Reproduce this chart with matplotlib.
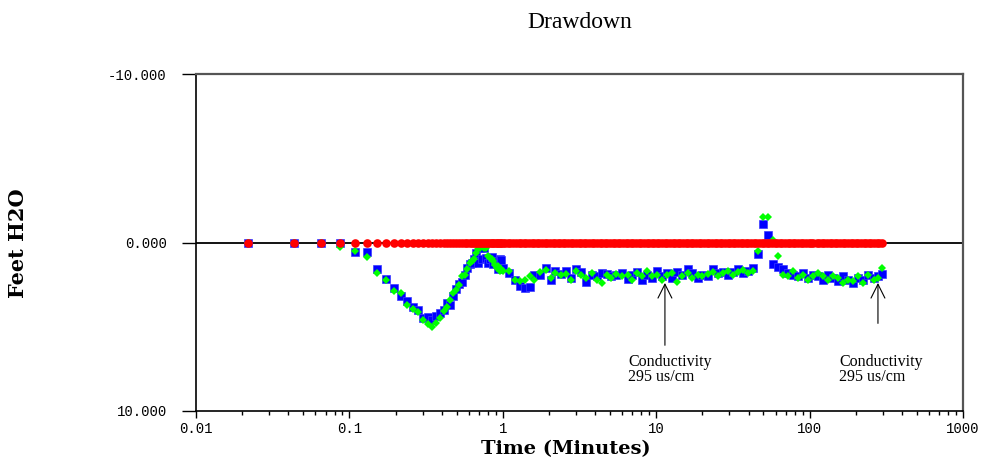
import matplotlib.pyplot as plt
import matplotlib.ticker as mticker

# elapsed time (minutes) - linear 1.3 s logging, then log logging
minutes = [
    0.0217, 0.0433, 0.0650, 0.0867, 0.1083, 0.1300, 0.1517, 0.1733, 0.1950, 0.2167,
    0.2383, 0.2600, 0.2817, 0.3033, 0.3250, 0.3467, 0.3683, 0.3900, 0.4117, 0.4333,
    0.4550, 0.4767, 0.4983, 0.5200, 0.5417, 0.5633, 0.5850, 0.6067, 0.6283, 0.6500,
    0.6717, 0.6933, 0.7150, 0.7367, 0.7583, 0.7800, 0.8017, 0.8233, 0.8450, 0.8667,
    0.8883, 0.9100, 0.9317, 0.9533, 0.9750, 0.9967,
    1.1, 1.2, 1.3, 1.4, 1.5, 1.6, 1.75, 1.9, 2.05, 2.2,
    2.4, 2.6, 2.8, 3.0, 3.25, 3.5, 3.8, 4.1, 4.4, 4.75,
    5.1, 5.5, 6.0, 6.5, 7.0, 7.5, 8.1, 8.7, 9.4, 10.1,
    10.9, 11.8, 12.7, 13.7, 14.8, 16.0, 17.2, 18.6, 20.0, 21.6,
    23.3, 25.1, 27.1, 29.2, 31.5, 34.0, 36.7, 39.6, 42.7, 46.0,
    49.6, 53.5, 57.7, 62.2, 67.1, 72.4, 78.1, 84.2, 90.8, 97.9,
    105.6, 113.9, 122.8, 132.4, 142.8, 154, 166, 179, 193, 208,
    224, 242, 261, 281, 298,
]

# drawdown, feet H2O (positive = down)
blue = [
    0, 0, 0, 0, 0.55, 0.55, 1.55, 2.15, 2.7, 3.2,
    3.5, 3.85, 4.0, 4.5, 4.45, 4.6, 4.35, 4.2, 4.0, 3.6,
    3.7, 3.2, 2.75, 2.45, 2.35, 1.9, 1.5, 1.3, 1.2, 1.0,
    0.65, 1.2, 0.35, 0.95, 0.3, 0.9, 1.2, 1.0, 0.85, 1.3,
    1.1, 1.25, 1.6, 1.0, 1.05, 1.5,
    1.8, 2.2, 2.6, 2.7, 2.65, 1.95, 1.9, 1.5, 2.2, 1.7,
    1.85, 1.7, 2.1, 1.6, 1.75, 2.35, 1.9, 2.0, 1.8, 1.85,
    2.0, 1.9, 1.8, 2.15, 1.95, 1.75, 2.2, 1.9, 2.1, 1.7,
    2.0, 1.8, 2.1, 1.75, 1.9, 1.6, 1.8, 2.1, 1.9, 2.0,
    1.6, 1.8, 1.75, 1.9, 1.75, 1.6, 1.8, 1.7, 1.5, 0.7,
    -1.1, -0.45, 1.25, 1.45, 1.6, 1.8, 1.9, 2.0, 1.8, 2.1,
    1.9, 2.0, 2.2, 1.9, 2.1, 2.3, 2.0, 2.2, 2.4, 2.1,
    2.2, 1.9, 2.1, 2.0, 1.85,
]

green = [
    0, 0, 0, 0.25, 0.5, 0.85, 1.8, 2.2, 2.9, 3.0,
    3.7, 3.95, 4.1, 4.6, 4.85, 5.0, 4.8, 4.5, 4.05, 3.8,
    3.4, 3.0, 2.8, 2.55, 2.0, 1.95, 1.55, 1.2, 1.1, 0.95,
    0.6, 0.4, 0.3, 0.2, 0.3, 0.35, 0.8, 0.9, 1.0, 1.1,
    1.35, 1.5, 1.4, 1.7, 1.6, 1.7,
    1.7, 2.2, 2.3, 2.2, 2.0, 2.2, 1.75, 1.65, 2.1, 1.8,
    1.9, 1.85, 2.2, 1.7, 1.9, 2.1, 1.8, 2.2, 2.4, 1.9,
    2.1, 1.85, 2.0, 1.9, 2.25, 1.8, 2.0, 1.7, 2.0, 1.9,
    2.2, 1.9, 1.8, 2.35, 2.0, 1.8, 2.1, 1.9, 2.0, 1.85,
    1.75, 2.0, 1.8, 1.7, 1.9, 1.75, 1.65, 1.8, 1.7, 0.5,
    -1.5, -1.5, -0.15, 0.8, 1.9, 2.0, 1.7, 2.1, 1.9, 2.2,
    2.0, 1.8, 2.0, 2.2, 2.0, 2.1, 2.4, 2.2, 2.3, 2.0,
    2.4, 1.9, 2.2, 2.1, 1.5,
]

# reference channel (red) is logged more often - reads a flat 0.000
red_minutes = [
    0.0217, 0.0433, 0.0650, 0.0867, 0.1083, 0.1300, 0.1517, 0.1733, 0.1950, 0.2167,
    0.2383, 0.2600, 0.2817, 0.3033, 0.3250, 0.3467, 0.3683, 0.3900, 0.4117, 0.4333,
    0.4550, 0.4767, 0.4983, 0.5200, 0.5417, 0.5633, 0.5850, 0.6067, 0.6283, 0.6500,
    0.6717, 0.6933, 0.7150, 0.7367, 0.7583, 0.7800, 0.8017, 0.8233, 0.8450, 0.8667,
    0.8883, 0.9100, 0.9317, 0.9533, 0.9750, 0.9967,
    1.04, 1.08, 1.12, 1.17, 1.22, 1.27, 1.32, 1.37, 1.42, 1.48,
    1.54, 1.60, 1.67, 1.73, 1.80, 1.87, 1.95, 2.03, 2.11, 2.19,
    2.28, 2.37, 2.46, 2.56, 2.67, 2.77, 2.88, 3.00, 3.12, 3.24,
    3.37, 3.51, 3.65, 3.79, 3.95, 4.10, 4.27, 4.44, 4.62, 4.80,
    4.99, 5.19, 5.40, 5.62, 5.84, 6.07, 6.32, 6.57, 6.83, 7.11,
    7.39, 7.69, 8.00, 8.32, 8.65, 9.00, 9.36, 9.73, 10.1, 10.5,
    10.9, 11.4, 11.8, 12.3, 12.8, 13.3, 13.8, 14.4, 15.0, 15.6,
    16.2, 16.8, 17.5, 18.2, 18.9, 19.7, 20.5, 21.3, 22.2, 23.0,
    24.0, 24.9, 25.9, 27.0, 28.0, 29.2, 30.3, 31.6, 32.8, 34.1,
    35.5, 36.9, 38.4, 39.9, 41.5, 43.2, 44.9, 46.7, 48.6, 50.5,
    52.5, 54.6, 56.8, 59.1, 61.4, 63.9, 66.5, 69.1, 71.9, 74.8,
    77.7, 80.8, 84.1, 87.4, 90.9, 94.6, 98.4, 102, 106, 111,
    115, 120, 125, 130, 135, 140, 146, 152, 158, 164,
    171, 178, 185, 192, 200, 208, 216, 225, 234, 243,
    253, 263, 273, 284, 295,
]

red = [
    0, 0, 0, 0, 0, 0, 0, 0, 0, 0, 0, 0, 0, 0, 0, 0, 0, 0, 0, 0, 0, 0, 0, 0,
    0, 0, 0, 0, 0, 0, 0, 0, 0, 0, 0, 0, 0, 0, 0, 0, 0, 0, 0, 0, 0, 0, 0, 0,
    0, 0, 0, 0, 0, 0, 0, 0, 0, 0, 0, 0, 0, 0, 0, 0, 0, 0, 0, 0, 0, 0, 0, 0,
    0, 0, 0, 0, 0, 0, 0, 0, 0, 0, 0, 0, 0, 0, 0, 0, 0, 0, 0, 0, 0, 0, 0, 0,
    0, 0, 0, 0, 0, 0, 0, 0, 0, 0, 0, 0, 0, 0, 0, 0, 0, 0, 0, 0, 0, 0, 0, 0,
    0, 0, 0, 0, 0, 0, 0, 0, 0, 0, 0, 0, 0, 0, 0, 0, 0, 0, 0, 0, 0, 0, 0, 0,
    0, 0, 0, 0, 0, 0, 0, 0, 0, 0, 0, 0, 0, 0, 0, 0, 0, 0, 0, 0, 0, 0, 0, 0,
    0, 0, 0, 0, 0, 0, 0, 0, 0, 0, 0, 0, 0, 0, 0, 0, 0, 0, 0, 0, 0, 0, 0,
]

yticks = [-10, 0, 10]
xticks = [0.01, 0.1, 1, 10, 100, 1000]
xticklabels = ['0.01', '0.1', '1', '10', '100', '1000']

# (x, tip, tail, text x) of the two conductivity notes
notes = [(11.4, 2.4, 6.1, 6.55), (279, 2.4, 4.8, 155.6)]

fig = plt.figure(figsize=(9.84, 4.59), dpi=100)
ax = fig.add_axes([196 / 984, 48 / 459, 767 / 984, 337 / 459])

ax.axhline(0, color='black', lw=1.3, zorder=1)
ax.plot(minutes, blue, 's', color='#0000ff', ms=5.6, mec='#3a3aff', mew=0.5, zorder=3)
ax.plot(minutes, green, 'D', color='#00ff00', ms=4.4, mew=0, zorder=4)
ax.plot(red_minutes, red, 'o', color='#ff0000', ms=6.2, mew=0, zorder=5)

ax.set_xscale('log')
ax.set_xlim(0.01, 1000)
ax.set_ylim(10, -10)

ax.set_yticks(yticks)
ax.yaxis.set_major_formatter(mticker.FormatStrFormatter('%.3f'))
ax.yaxis.set_minor_locator(mticker.NullLocator())
ax.tick_params(axis='y', direction='out', length=10, width=1, pad=11,
               labelsize=10, labelfontfamily='Liberation Mono')

ax.set_xticks(xticks)
ax.set_xticklabels(xticklabels)
ax.xaxis.set_minor_locator(mticker.LogLocator(base=10, subs=range(2, 10)))
ax.xaxis.set_minor_formatter(mticker.NullFormatter())
ax.tick_params(axis='x', which='major', direction='out', length=5, width=1, pad=3,
               labelsize=10, labelfontfamily='Liberation Mono')
ax.tick_params(axis='x', which='minor', direction='out', length=3, width=1)

for side in ['left', 'bottom']:
    ax.spines[side].set_color('black')
    ax.spines[side].set_linewidth(1.2)
for side in ['top', 'right']:
    ax.spines[side].set_color('#555555')
    ax.spines[side].set_linewidth(1.6)

for x, tip, tail, tx in notes:
    ax.annotate('', xy=(x, tip), xytext=(x, tail),
                arrowprops=dict(arrowstyle='->,head_length=1.0,head_width=0.5',
                                color='black', lw=0.8, shrinkA=0, shrinkB=0))
    ax.text(tx, 6.6, 'Conductivity\n295 us/cm', ha='left', va='top',
            fontsize=11.5, family='Liberation Serif', linespacing=0.95)

fig.text(580 / 984, 1 - 22 / 459, 'Drawdown', ha='center', va='center',
         fontsize=17, family='Liberation Serif')
fig.text(18 / 984, 1 - 243 / 459, 'Feet H2O', ha='center', va='center', rotation=90,
         fontsize=15, fontweight='bold', family='DejaVu Serif')
fig.text(566 / 984, 1 - 449 / 459, 'Time (Minutes)', ha='center', va='center',
         fontsize=14, fontweight='bold', family='DejaVu Serif')

fig.savefig('out.png', dpi=100)
